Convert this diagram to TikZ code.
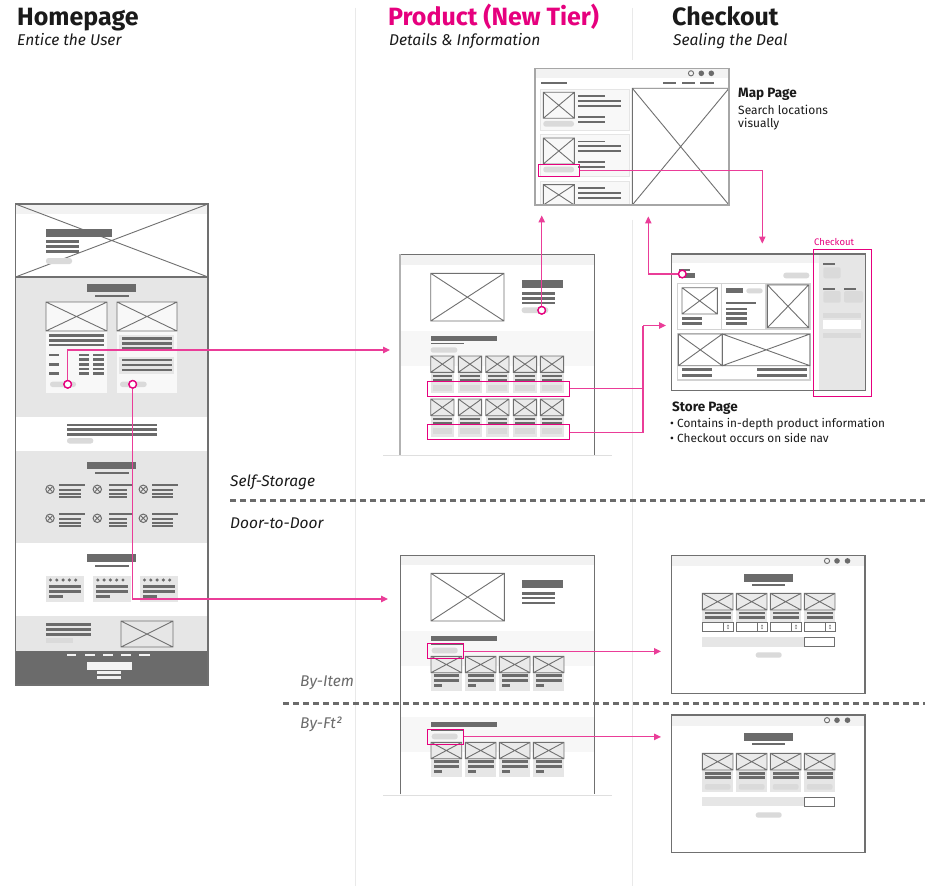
\documentclass[tikz,border=0pt]{standalone}
\usepackage{fontspec}
\setmainfont{Fira Sans}
\usetikzlibrary{arrows.meta}
\definecolor{dkg}{HTML}{6B6B6B}
\definecolor{secg}{HTML}{E6E6E6}
\definecolor{ltg}{HTML}{F2F2F2}
\definecolor{btng}{HTML}{DADADA}
\definecolor{brd}{HTML}{707070}
\definecolor{pk}{HTML}{E6007E}
\definecolor{pkline}{HTML}{EA3D98}
\definecolor{divg}{HTML}{E9E9E9}
\definecolor{cardg}{HTML}{F8F8F8}
\definecolor{imgf}{HTML}{EAEAEA}
\definecolor{txtg}{HTML}{1A1A1A}
\newcommand\wfX[4]{\draw[brd, line width=0.9pt] (#1,#2) rectangle (#3,#4) (#1,#2) -- (#3,#4) (#1,#4) -- (#3,#2);}
\newcommand\wfXf[5]{\fill[#5] (#1,#2) rectangle (#3,#4); \wfX{#1}{#2}{#3}{#4}}
\newcommand\wfR[4]{\fill[dkg] (#1,#2) rectangle (#3,#4);}
\newcommand\wfL[3]{\fill[dkg] (#1,#3-1.3) rectangle (#2,#3+1.3);}
\newcommand\wfT[3]{\fill[dkg] (#1,#3-0.95) rectangle (#2,#3+0.95);}
\newcommand\wfB[4]{\fill[btng, rounded corners=2.5pt] (#1,#2) rectangle (#3,#4);}
\begin{document}
\begin{tikzpicture}[x=1pt,y=-1pt,
  pkl/.style={draw=pkline, line width=1.1pt},
  pkarrow/.style={pkl, -{Triangle[length=7pt,width=6.5pt]}},
  pkdot/.style={circle, draw=pk, fill=white, line width=1.3pt, minimum size=7.5pt, inner sep=0pt},
  pkbox/.style={draw=pk, line width=1.1pt, inner sep=0pt, anchor=north west},
  head/.style={anchor=base west, font=\fontsize{25}{30}\selectfont\bfseries, text=txtg, inner sep=0pt},
  subhead/.style={anchor=base west, font=\fontsize{15.6}{18}\selectfont\itshape, text=txtg, inner sep=0pt},
  lbl/.style={anchor=base west, font=\fontsize{15.5}{18}\selectfont\itshape, text=txtg, inner sep=0pt},
  ttl/.style={anchor=base west, font=\fontsize{13.5}{16}\selectfont\bfseries, text=txtg, inner sep=0pt},
  desc/.style={anchor=base west, font=\fontsize{11.8}{14}\selectfont, text=txtg, inner sep=0pt},
  divider/.style={draw=divg, line width=1pt},
  sep/.style={draw=dkg, line width=3pt, dash pattern=on 6pt off 4pt},
  frame/.style={draw=brd, line width=1.2pt}
]
\useasboundingbox (0,0) rectangle (949,893);
\fill[white] (0,0) rectangle (949,893);

% ---------- dividers ----------
\draw[divider] (355,8) -- (355,886);
\draw[divider] (632,8) -- (632,60);
\draw[divider] (632,220) -- (632,886);

% ---------- headers ----------
\node[head] (hHome) at (17,26) {Homepage};
\node[subhead] (hHomeSub) at (17,46) {Entice the User};
\node[head, text=pk] (hProd) at (388,26) {Product (New Tier)};
\node[subhead] (hProdSub) at (389,46) {Details \& Information};
\node[head] (hCheck) at (672,26) {Checkout};
\node[subhead] (hCheckSub) at (673,46) {Sealing the Deal};

% ---------- section separators ----------
\draw[sep] (230,500) -- (925,500);
\node[lbl] (tSelf) at (230,486) {Self-Storage};
\node[lbl] (tDoor) at (230,528) {Door-to-Door};
\node[lbl, text=dkg] (tItem) at (300,686.5) {By-Item};
\node[lbl, text=dkg] (tFt) at (300,728.5) {By-Ft²};

% ================= HOMEPAGE =================
\fill[white] (15.5,204) rectangle (208,685);
\fill[ltg] (15.5,204) rectangle (208,214);
\fill[secg] (15.5,277) rectangle (208,417);
\fill[secg] (15.5,450.7) rectangle (208,543.3);
\fill[secg] (15.5,615.7) rectangle (208,650.7);
\fill[dkg] (15.5,650.7) rectangle (208,685);
\draw[brd, line width=0.9pt] (15.5,204) -- (208,277) (15.5,277) -- (208,204);
\draw[brd, line width=1.2pt] (15.5,277) -- (208,277);
% hero
\wfR{46}{229}{112}{237}
\wfL{46}{79}{241.7}\wfL{46}{79}{246.7}\wfL{46}{79}{251.7}
\wfB{46}{258}{72}{264}
% section 2
\wfR{87}{284}{136}{292}
\wfT{95}{128.7}{296.3}
\fill[cardg] (46,331) rectangle (107,393);
\wfXf{46}{302}{107}{331}{cardg}
\wfL{49}{104}{335.7}\wfL{49}{104}{340.3}\wfL{49}{104}{345}
\foreach \yy in {355,364.3,373.5}{\wfL{49}{59}{\yy}}
\foreach \yy in {355,359.7,364.3,369,373.5}{\wfL{79}{89.3}{\yy}\wfL{93.3}{104}{\yy}}
\wfB{50}{381.7}{76}{387}
\fill[cardg] (117,331) rectangle (177,393);
\wfXf{117}{302}{177}{331}{cardg}
\fill[secg] (119,334.5) rectangle (174,351);
\fill[secg] (119,356.5) rectangle (174,373.5);
\wfL{122}{171.7}{338.5}\wfL{122}{171.7}{343.3}\wfL{122}{171.7}{348}
\wfL{122}{171.7}{360}\wfL{122}{171.7}{365}\wfL{122}{171.7}{370}
\wfB{120}{381.7}{146.7}{387}
% section 3
\wfL{67}{157}{425}\wfL{67}{157}{429.7}\wfL{67}{157}{434.3}
\wfB{67}{438}{93.3}{443.5}
% section 4
\wfR{87}{461.7}{136}{469.3}
\wfT{95}{128.7}{473}
\foreach \cx/\la/\lb/\lc in {50/59.3/85/80.7, 97.3/108.7/131.7/127.3, 143.3/151.7/177.7/173.3}{
  \foreach \cy/\ya/\yb/\yc/\yd in {489.3/485/489.8/493.6/497.4, 518.3/514/518.8/522.6/526.4}{
    \draw[dkg, line width=1pt] (\cx,\cy) circle (4.2);
    \draw[dkg, line width=0.9pt] (\cx-2.4,\cy-2.4) -- (\cx+2.4,\cy+2.4) (\cx-2.4,\cy+2.4) -- (\cx+2.4,\cy-2.4);
    \wfT{\la}{\lb}{\ya}\wfT{\la}{\lc}{\yb}\wfT{\la}{\lc}{\yc}\wfT{\la}{\lc}{\yd}
  }
}
% section 5
\wfR{87}{554.3}{136}{562.3}
\wfT{95}{128.7}{566.3}
\foreach \xo in {46,93.3,140}{
  \fill[secg] (\xo,575.7) rectangle (\xo+37.7,601.7);
  \foreach \k in {0,...,4}{\fill[dkg] (\xo+4.5+\k*6.3,580) circle (1.7);}
  \wfL{\xo+3}{\xo+35}{586.7}\wfL{\xo+3}{\xo+35}{591.7}
  \wfL{\xo+3}{\xo+16.7}{596.7}
}
% section 6
\wfL{46}{90.7}{624.3}\wfL{46}{90.7}{629.3}\wfL{46}{90.7}{634.3}
\fill[btng] (46,637.7) rectangle (73,643.3);
\wfX{121}{621}{173}{647}
% footer
\foreach \xa/\xb in {66.7/76,85/95,103.3/113,121.3/131,139.3/150}{\fill[ltg] (\xa,653.8) rectangle (\xb,656.3);}
\fill[ltg] (86.7,662.3) rectangle (131.7,670);
\fill[ltg] (96.7,671.3) rectangle (121.3,673.5);
\fill[ltg] (96.7,676.3) rectangle (121.3,678.5);
\draw[frame] (15.5,204) rectangle (208,685);

% ================= PRODUCT (SELF-STORAGE) =================
\fill[white] (400,254.3) rectangle (594.3,455);
\fill[ltg] (400,254.3) rectangle (594.3,265);
\fill[ltg!60!white] (400,331) rectangle (594.3,366);
\draw[draw=brd, line width=1pt] (400,254.3) -- (594.3,254.3) -- (594.3,455);
\draw[draw=gray!60, line width=1.8pt] (400,254.3) -- (400,455);
\draw[draw=gray!25, line width=1.2pt] (383,455.8) -- (612,455.8);
\wfX{430.7}{273.3}{504}{321}
\wfR{521.7}{280}{563.3}{288.3}
\wfL{521.7}{555}{293.3}\wfL{521.7}{555}{298.3}\wfL{521.7}{555}{303}
\wfB{521.7}{307.3}{548.3}{313}
\wfR{430.7}{335.7}{497.3}{340.7}
\wfT{430.7}{464.3}{343.5}
\wfB{430.7}{347.3}{457.3}{352.7}
\foreach \xo in {430.7,458.3,485.7,513.3,540.3}{
  \foreach \ia/\ib/\la/\lb/\ba/\bb/\bo in {356/372.3/376/380.3/385/391/393.3, 399/415.7/419/423.3/428.3/434.3/436.7}{
    \fill[secg] (\xo,\ib) rectangle (\xo+23.3,\bo);
    \wfXf{\xo}{\ia}{\xo+23.3}{\ib}{imgf}
    \wfT{\xo+2}{\xo+21.3}{\la}\wfT{\xo+2}{\xo+21.3}{\lb}
    \fill[btng] (\xo+2,\ba) rectangle (\xo+21.3,\bb);
  }
}
\node[pkbox, minimum width=142pt, minimum height=15pt] (pr1) at (426.7,380.7) {};
\node[pkbox, minimum width=142pt, minimum height=15pt] (pr2) at (426.7,424.3) {};
\node[pkdot] (pdot) at (541.7,310.3) {};

% ================= MAP PAGE =================
\fill[white] (535,68.3) rectangle (729,205);
\fill[ltg] (535,68.3) rectangle (729,78.3);
\draw[dkg, line width=0.9pt] (691,73.3) circle (2.6);
\fill[dkg] (701.3,73.3) circle (2.8);
\fill[dkg] (711.3,73.3) circle (2.8);
\wfL{541}{567.3}{83}\wfL{663}{676.3}{83}\wfL{681.7}{695}{83}\wfL{700.3}{713.7}{83}
\wfX{632.3}{88.3}{729}{205}
\foreach \ty in {89.3,135}{
  \filldraw[fill=cardg, draw=gray!20, line width=1pt] (540.7,\ty) rectangle (629,\ty+41.5);
  \wfX{543.3}{\ty+3}{574.3}{\ty+29}
  \wfT{578.3}{605}{\ty+6.5}
  \wfT{578.3}{620.7}{\ty+11.4}\wfT{578.3}{620.7}{\ty+16.4}
  \wfT{578.3}{605}{\ty+27.4}\wfT{578.3}{605}{\ty+32.4}
  \wfB{543.3}{\ty+31.7}{574}{\ty+37.4}
}
\fill[cardg] (540.7,181.7) rectangle (629,204.5);
\draw[gray!20, line width=1pt] (540.7,204.5) -- (540.7,181.7) -- (629,181.7) -- (629,204.5);
\wfX{543.3}{184.7}{574.3}{205}
\wfT{578.3}{605}{188}\wfT{578.3}{620.7}{192.8}\wfT{578.3}{620.7}{197.6}
\draw[draw=gray!70, line width=1.2pt] (535,68.3) rectangle (729,205);
\node[pkbox, minimum width=40.7pt, minimum height=12pt] (mr) at (538.3,164) {};
\node[ttl] (tMap) at (738,98) {Map Page};
\node[desc, font=\fontsize{12}{14}\selectfont] (tMapA) at (738,114.5) {Search locations};
\node[desc, font=\fontsize{12}{14}\selectfont] (tMapB) at (738,127.5) {visually};

% ================= STORE PAGE =================
\fill[white] (671.7,254) rectangle (865.7,390.7);
\fill[ltg] (671.7,254) rectangle (819.3,263.3);
\fill[secg] (819.3,254) rectangle (865.7,390.7);
\fill[dkg] (679,269.3) rectangle (690,271);
\fill[dkg] (679,273.3) rectangle (695,277.5);
\wfB{783.3}{272.7}{809.3}{278.3}
\draw[gray!35, line width=1.5pt] (677.3,283.3) rectangle (810,329.3);
\draw[gray!35, line width=1.5pt] (721.7,283.3) -- (721.7,329.3) (766,283.3) -- (766,329.3);
\wfX{682}{287.7}{717.3}{314}
\wfL{682}{702.3}{318.3}\wfL{682}{702.3}{323.3}
\wfR{726}{288.3}{742.7}{293.3}
\wfB{746.3}{288.3}{762.7}{293.3}
\wfT{726}{756}{302.7}
\wfL{726}{746.7}{309}\wfL{726}{746.7}{313.7}\wfL{726}{746.7}{318.5}\wfL{726}{746.7}{323.3}
\wfX{767.3}{284.8}{808.7}{327.8}
\draw[gray!35, line width=1.5pt] (677.3,333.3) rectangle (810,380);
\wfX{678.3}{334}{722.3}{365.7}
\wfX{722.3}{334}{810}{365.7}
\wfL{682}{711.7}{369.3}\wfL{682}{711.7}{375.7}
\wfL{757.3}{807.3}{369.3}\wfL{757.3}{807.3}{375.7}
% side nav
\wfT{823.3}{835}{263.7}
\fill[btng, rounded corners=2pt] (823.3,267.3) rectangle (840.7,278.3);
\wfT{823.3}{835}{288.7}\wfT{844}{855.7}{288.7}
\fill[btng, rounded corners=2pt] (823.3,291) rectangle (840.7,302.7);
\fill[btng, rounded corners=2pt] (844,291) rectangle (863,302.7);
\fill[btng] (823.3,313.3) rectangle (861,318.3);
\fill[white] (823.3,320) rectangle (861,328.7);
\fill[btng] (823.3,333) rectangle (861,338.3);
\draw[frame] (671.7,254) rectangle (865.7,390.7);
\node[pkbox, minimum width=58pt, minimum height=146.7pt] (ckbox) at (813.3,249) {};
\node[anchor=base west, inner sep=0pt, text=pk, font=\fontsize{9.5}{11}\selectfont] (tCk) at (814,245) {Checkout};
\node[pkdot] (sdot) at (682.3,274) {};
\node[ttl] (tStore) at (672,411.5) {Store Page};
\node[desc] (tStoreA) at (670,427.5) {• Contains in-depth product information};
\node[desc] (tStoreB) at (670,442.5) {• Checkout occurs on side nav};

% ================= PRODUCT (DOOR-TO-DOOR) =================
\fill[white] (400.7,555) rectangle (594.3,794.3);
\fill[ltg] (400.7,555) rectangle (594.3,565);
\fill[ltg!60!white] (400.7,631) rectangle (594.3,666);
\fill[ltg!60!white] (400.7,717.3) rectangle (594.3,752.3);
\draw[draw=brd, line width=1pt] (400.7,794.3) -- (400.7,555) -- (594.3,555) -- (594.3,794.3);
\draw[draw=gray!25, line width=1.2pt] (383,795.3) -- (612,795.3);
\wfX{431}{573.3}{504.3}{621}
\wfR{522.3}{580}{563.3}{588.3}
\wfL{522.3}{555}{593.3}\wfL{522.3}{555}{598}\wfL{522.3}{555}{603}
\foreach \hy/\iy in {635.7/656.3, 721.7/742.3}{
  \wfR{431}{\hy}{497.3}{\hy+5}
  \wfT{431}{464.3}{\hy+8}
  \wfB{431.7}{\hy+12}{457.7}{\hy+17.6}
  \foreach \xo in {431,465.3,499.3,533.3}{
    \fill[secg] (\xo,\iy+16.4) rectangle (\xo+30.7,\iy+34.4);
    \wfXf{\xo}{\iy}{\xo+30.7}{\iy+16.4}{imgf}
    \wfL{\xo+2.5}{\xo+28.2}{\iy+19.4}\wfL{\xo+2.5}{\xo+28.2}{\iy+24.4}
    \wfL{\xo+2.5}{\xo+11}{\iy+29.4}
  }
}
\node[pkbox, minimum width=36.6pt, minimum height=15pt] (dr1) at (426.7,643.3) {};
\node[pkbox, minimum width=36.6pt, minimum height=15.3pt] (dr2) at (426.7,728.7) {};
\draw[sep] (283,703.6) -- (925,703.6);

% ================= CHECKOUT PAGES =================
\foreach \ty/\kind in {555.7/1, 715/2}{
  \fill[white] (671.7,\ty) rectangle (865,\ty+137.7);
  \fill[ltg] (671.7,\ty) rectangle (865,\ty+10.5);
  \draw[dkg, line width=0.9pt] (827,\ty+5.2) circle (2.6);
  \fill[dkg] (837,\ty+5.2) circle (2.8);
  \fill[dkg] (847.5,\ty+5.2) circle (2.8);
  \wfR{744}{\ty+18}{792.7}{\ty+25.8}
  \wfT{752}{785.3}{\ty+29.2}
  \foreach \xo in {702.3,736.3,770.3,804.3}{
    \ifnum\kind=1
      \fill[secg] (\xo,\ty+54.3) rectangle (\xo+30.7,\ty+66.3);
      \wfXf{\xo}{\ty+37.6}{\xo+30.7}{\ty+54.3}{imgf}
      \wfL{\xo+2.5}{\xo+28.2}{\ty+57.3}\wfL{\xo+2.5}{\xo+28.2}{\ty+62}
      \filldraw[fill=white, draw=brd, line width=0.9pt] (\xo,\ty+67) rectangle (\xo+30.7,\ty+75.3);
      \draw[brd, line width=0.8pt] (\xo+21,\ty+67) -- (\xo+21,\ty+75.3);
      \fill[dkg] (\xo+24.6,\ty+70.6) -- (\xo+26.8,\ty+70.6) -- (\xo+25.7,\ty+68.8) -- cycle;
      \fill[dkg] (\xo+24.6,\ty+71.8) -- (\xo+26.8,\ty+71.8) -- (\xo+25.7,\ty+73.6) -- cycle;
    \else
      \fill[secg] (\xo,\ty+55) rectangle (\xo+30.7,\ty+76.7);
      \wfXf{\xo}{\ty+38.3}{\xo+30.7}{\ty+55}{imgf}
      \wfL{\xo+2.5}{\xo+28.2}{\ty+58.3}\wfL{\xo+2.5}{\xo+28.2}{\ty+62.7}
      \fill[btng, rounded corners=2pt] (\xo+2.5,\ty+69) rectangle (\xo+28.2,\ty+74.7);
    \fi
  }
}
% checkout 1 bottom
\fill[secg] (702.3,637.3) rectangle (804,646.7);
\filldraw[fill=white, draw=brd, line width=1pt] (804,637.3) rectangle (834.3,646.7);
\wfB{755.7}{652.3}{781.7}{657.7}
% checkout 2 bottom
\fill[secg] (702.3,797.3) rectangle (804,806.3);
\filldraw[fill=white, draw=brd, line width=1pt] (804,797.3) rectangle (834.3,806.3);
\wfB{755.7}{812.3}{781.7}{817.7}
\draw[frame] (671.7,555.7) rectangle (865,693.4);
\draw[frame] (671.7,715) rectangle (865,852.7);

% ================= CONNECTORS =================
\node[pkdot] (hdot1) at (67.7,384.3) {};
\node[pkdot] (hdot2) at (132.7,384.3) {};
\coordinate (p1in) at (390,350);
\coordinate (p2in) at (388,599);
\coordinate (mapin) at (541.7,215.5);
\coordinate (mapin2) at (648.3,216.5);
\coordinate (storetop) at (762.3,243.5);
\coordinate (join) at (643,325.5);
\coordinate (storein) at (666,325.5);
\coordinate (ck1in) at (661,650.8);
\coordinate (ck2in) at (661,736.4);

\draw[pkarrow] (hdot1) |- (p1in);
\draw[pkarrow] (hdot2) |- (p2in);
\draw[pkarrow] (pdot) -- (mapin);
\draw[pkl] (pr1.east) -| (join);
\draw[pkl] (pr2.east) -| (join);
\draw[pkarrow] (join) -- (storein);
\draw[pkarrow] (mr.east) -| (storetop);
\draw[pkarrow] (sdot) -| (mapin2);
\draw[pkarrow] (dr1.east) -- (dr1.east -| ck1in);
\draw[pkarrow] (dr2.east) -- (dr2.east -| ck2in);
% redraw dots on top of lines
\node[pkdot] at (hdot1) {};
\node[pkdot] at (hdot2) {};
\node[pkdot] at (pdot) {};
\node[pkdot] at (sdot) {};
\end{tikzpicture}
\end{document}
